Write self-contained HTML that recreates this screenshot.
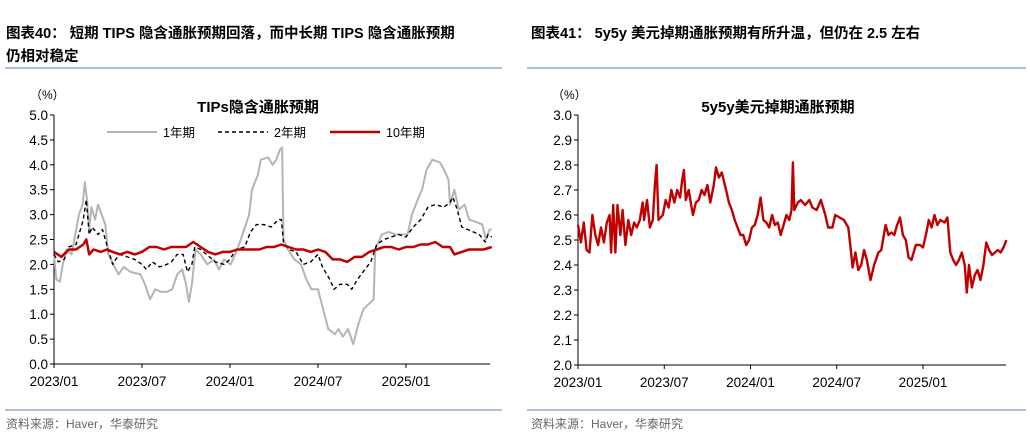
<!DOCTYPE html>
<html><head><meta charset="utf-8">
<style>
body{margin:0;background:#fff;width:1030px;height:437px;overflow:hidden;font-family:"Liberation Sans","Noto Sans CJK SC",sans-serif;}
svg text{font-family:"Liberation Sans","Noto Sans CJK SC",sans-serif;}
</style></head>
<body>
<svg width="1030" height="437">
<text x="6" y="38" font-size="14.5" font-weight="bold" fill="#000">图表40：  短期 TIPS 隐含通胀预期回落，而中长期 TIPS 隐含通胀预期</text>
<text x="6" y="61" font-size="14.5" font-weight="bold" fill="#000">仍相对稳定</text>
<text x="531" y="38" font-size="14.5" font-weight="bold" fill="#000">图表41：  5y5y 美元掉期通胀预期有所升温，但仍在 2.5 左右</text>
<line x1="5" y1="68" x2="502" y2="68" stroke="#5b7fbf" stroke-width="1"/>
<line x1="527" y1="68" x2="1026" y2="68" stroke="#5b7fbf" stroke-width="1"/>
<line x1="5" y1="410" x2="502" y2="410" stroke="#5b7fbf" stroke-width="1"/>
<line x1="527" y1="410" x2="1026" y2="410" stroke="#5b7fbf" stroke-width="1"/>
<text x="6" y="428" font-size="12" fill="#666">资料来源：Haver，华泰研究</text>
<text x="531" y="428" font-size="12" fill="#666">资料来源：Haver，华泰研究</text>
<g id="left"></g>
<g id="right"></g>
</svg>
<script>
// ---- Left chart data (t = months since 2023/01) ----
const xTickLabels = ["2023/01","2023/07","2024/01","2024/07","2025/01"];
const xTickMonths = [0,6,12,18,24];
const leftYTicks = [0,0.5,1,1.5,2,2.5,3,3.5,4,4.5,5];
const rightYTicks = [2.0,2.1,2.2,2.3,2.4,2.5,2.6,2.7,2.8,2.9,3.0];
const y1T = [0,.16,.4,.6,.85,1.2,1.45,1.7,1.95,2.1,2.25,2.4,2.55,2.8,3.0,3.25,3.5,3.7,4.05,4.4,4.75,5.2,5.9,6.2,6.55,6.9,7.3,7.7,8.05,8.4,8.75,9.0,9.2,9.4,9.65,10.0,10.45,10.9,11.25,11.6,12.05,12.5,12.97,13.3,13.5,13.9,14.1,14.6,14.9,15.15,15.4,15.55,15.65,15.95,16.4,16.85,17.2,17.55,18.0,18.35,18.7,19.15,19.4,19.7,20.05,20.4,20.75,21.1,21.45,21.8,21.9,22.35,22.8,23.3,23.75,24.1,24.4,24.8,25.1,25.4,25.8,26.3,26.6,26.9,27.0,27.3,27.6,28.0,28.3,28.8,29.2,29.45,29.7,29.85];
const y1V = [2.2,1.7,1.65,2.0,2.3,2.2,2.6,3.0,3.2,3.65,3.3,2.7,3.15,2.9,3.2,3.0,2.8,2.2,2.0,1.8,1.95,1.85,1.8,1.6,1.3,1.5,1.45,1.45,1.5,1.8,1.9,1.6,1.25,1.6,2.3,2.2,2.0,2.1,1.9,2.1,2.0,2.3,2.7,3.0,3.5,3.8,4.1,4.15,4.0,4.1,4.3,4.35,2.5,2.3,2.1,2.0,1.7,1.5,1.5,1.1,0.7,0.6,0.7,0.55,0.7,0.4,0.8,1.1,1.2,1.3,2.3,2.6,2.65,2.6,2.6,2.6,3.0,3.3,3.5,3.9,4.1,4.05,3.9,3.7,3.2,3.5,3.1,3.2,2.9,2.85,2.8,2.5,2.7,2.7];
const y2T = [0,.3,.7,1,1.5,2,2.2,2.4,2.6,3,3.3,3.6,4,4.2,4.5,5,5.5,6,6.3,6.7,7.2,7.7,8,8.4,8.8,9.1,9.4,9.6,10,10.4,11,11.6,12,12.4,13,13.4,13.8,14.3,14.8,15.3,15.5,15.65,16,16.5,17,17.5,18,18.3,18.8,19.1,19.5,20,20.3,20.7,21.2,21.6,22,22.5,23,23.5,24,24.5,25,25.5,26,26.6,27,27.2,27.5,27.8,28.2,28.6,29,29.4,29.6,29.85];
const y2V = [2.2,2.05,2.1,2.35,2.4,2.9,3.3,2.6,2.75,2.6,2.7,2.4,2.0,2.1,2.2,2.15,2.1,2.0,1.9,2.05,1.95,2.0,2.05,2.2,2.2,1.85,2.0,2.35,2.3,2.2,2.05,2.0,2.1,2.3,2.35,2.65,2.8,2.8,2.75,2.9,2.9,2.45,2.3,2.25,2.0,2.05,2.2,1.95,1.7,1.5,1.6,1.6,1.5,1.7,1.9,2.05,2.4,2.5,2.55,2.6,2.55,2.75,2.9,3.15,3.2,3.15,3.25,3.35,3.1,2.75,2.7,2.65,2.6,2.45,2.6,2.55];
const y10T = [0,.5,1,1.5,2,2.2,2.4,2.7,3.2,3.6,4,4.5,5,5.5,6,6.5,7,7.5,8,8.5,9,9.5,10,10.5,11,11.5,12,12.5,13,13.5,14,14.5,15,15.5,16,16.5,17,17.5,18,18.5,19,19.5,20,20.5,21,21.5,22,22.5,23,23.5,24,24.5,25,25.5,26,26.5,27,27.3,27.8,28.3,28.8,29.3,29.85];
const y10V = [2.25,2.15,2.3,2.3,2.4,2.5,2.2,2.3,2.25,2.3,2.25,2.2,2.25,2.2,2.25,2.35,2.35,2.3,2.35,2.35,2.35,2.45,2.35,2.25,2.2,2.25,2.25,2.3,2.3,2.3,2.3,2.35,2.35,2.4,2.35,2.3,2.3,2.25,2.3,2.25,2.1,2.1,2.05,2.15,2.15,2.25,2.3,2.35,2.35,2.3,2.35,2.35,2.4,2.4,2.45,2.35,2.35,2.2,2.25,2.3,2.3,2.3,2.35];
// ---- Right chart data ----
const fT = [0,.2,.4,.6,.8,1,1.2,1.4,1.6,1.8,2,2.2,2.3,2.45,2.6,2.75,2.95,3.1,3.3,3.5,3.7,3.9,4.1,4.3,4.5,4.6,4.8,5,5.2,5.35,5.47,5.6,5.9,6.1,6.3,6.5,6.7,6.9,7.1,7.25,7.37,7.5,7.7,7.9,8,8.2,8.4,8.6,8.8,9,9.2,9.45,9.6,9.8,10,10.3,10.5,10.7,10.9,11.1,11.3,11.5,11.7,11.9,12.1,12.3,12.5,12.7,12.9,13.1,13.3,13.5,13.7,13.9,14.1,14.3,14.5,14.7,14.85,14.95,15.05,15.3,15.5,15.8,16.1,16.3,16.6,16.9,17.2,17.4,17.7,17.9,18.2,18.5,18.8,19,19.1,19.3,19.5,19.7,19.9,20.1,20.35,20.6,20.9,21.1,21.4,21.6,21.8,22,22.2,22.4,22.6,22.8,23,23.2,23.5,23.8,24,24.2,24.4,24.6,24.8,25,25.2,25.5,25.7,25.9,26.1,26.3,26.5,26.7,26.9,27.05,27.2,27.4,27.6,27.8,28,28.2,28.4,28.6,28.8,29,29.2,29.4,29.6,29.8];
const fV = [2.56,2.49,2.57,2.46,2.45,2.6,2.52,2.48,2.55,2.49,2.57,2.6,2.45,2.64,2.45,2.64,2.52,2.62,2.48,2.58,2.52,2.57,2.55,2.58,2.65,2.58,2.66,2.55,2.58,2.72,2.8,2.58,2.6,2.66,2.63,2.7,2.65,2.7,2.67,2.74,2.78,2.66,2.7,2.63,2.6,2.65,2.66,2.7,2.68,2.72,2.65,2.72,2.79,2.75,2.77,2.7,2.65,2.62,2.58,2.55,2.52,2.52,2.48,2.5,2.55,2.56,2.6,2.67,2.58,2.57,2.55,2.6,2.56,2.57,2.52,2.56,2.6,2.58,2.62,2.81,2.62,2.65,2.66,2.64,2.66,2.63,2.62,2.66,2.6,2.55,2.55,2.6,2.59,2.58,2.55,2.45,2.39,2.45,2.38,2.4,2.46,2.42,2.34,2.4,2.45,2.46,2.56,2.52,2.53,2.52,2.56,2.59,2.52,2.5,2.43,2.42,2.48,2.48,2.47,2.52,2.58,2.55,2.6,2.56,2.58,2.57,2.59,2.45,2.42,2.4,2.42,2.45,2.4,2.29,2.4,2.31,2.36,2.38,2.34,2.4,2.49,2.46,2.44,2.45,2.46,2.45,2.47,2.5];

const NS="http://www.w3.org/2000/svg";
function mk(parent,tag,attrs){const e=document.createElementNS(NS,tag);for(const k in attrs)e.setAttribute(k,attrs[k]);parent.appendChild(e);return e;}

function drawAxes(g,x0,x1,yTop,yBot,ticks,ymin,ymax,fmt,monthPx,pctX){
  const ys=v=>yBot-(v-ymin)/(ymax-ymin)*(yBot-yTop);
  const ax=mk(g,'line',{x1:x0,y1:yTop,x2:x0,y2:yBot,stroke:'#000','stroke-width':1});
  
  
  const bx=mk(g,'line',{x1:x0,y1:yBot,x2:x1,y2:yBot,stroke:'#000','stroke-width':1});
  
  
  ticks.forEach(v=>{
    const y=ys(v);
    mk(g,'line',{x1:x0-4,y1:y,x2:x0,y2:y,stroke:'#000'});
    const t=mk(g,'text',{x:x0-6,y:y+5,'font-size':13.5,'text-anchor':'end',fill:'#000'});
    
    
    t.textContent=v.toFixed(1);
  });
  xTickMonths.forEach((m,i)=>{
    const x=x0+m*monthPx;
    mk(g,'line',{x1:x,y1:yBot,x2:x,y2:yBot+4,stroke:'#000'});
    const t=mk(g,'text',{x:x,y:yBot+22,'font-size':13.5,'text-anchor':'middle',fill:'#000'});
    
    
    t.textContent=xTickLabels[i];
  });
  const p=mk(g,'text',{x:pctX,y:99,'font-size':12,fill:'#000'});
  
  
  p.textContent='（%）';
  return ys;
}
function line(g,T,V,xs,ys,attrs,name){
  const d=T.map((t,i)=>(i?'L':'M')+xs(t).toFixed(1)+','+ys(V[i]).toFixed(1)).join('');
  const p=mk(g,'path',Object.assign({d:d,fill:'none','stroke-linejoin':'round'},attrs));
  
  
}
// Left
const L=document.getElementById('left');
const lMonth=(406-54)/24;
const lys=drawAxes(L,54,490,115,364,leftYTicks,0,5,null,lMonth,30);
const lxs=t=>54+t*lMonth;
line(L,y1T,y1V,lxs,lys,{stroke:'#b4b4b4','stroke-width':2},'series-1y');
line(L,y2T,y2V,lxs,lys,{stroke:'#000','stroke-width':1.4,'stroke-dasharray':'4,3'},'series-2y');
line(L,y10T,y10V,lxs,lys,{stroke:'#c00000','stroke-width':2.5},'series-10y');
let tt=mk(L,'text',{x:258,y:112,'font-size':15,'font-weight':'bold','text-anchor':'middle'});


tt.textContent='TIPs隐含通胀预期';
const leg=[['1年期','#b4b4b4',107,'none',2],['2年期','#000',218,'4,3',1.4],['10年期','#c00000',330,'none',2.5]];
leg.forEach(l=>{
  const e=mk(L,'line',{x1:l[2],y1:132,x2:l[2]+50,y2:132,stroke:l[1],'stroke-width':l[4],'stroke-dasharray':l[3]});
  
  
  const t=mk(L,'text',{x:l[2]+56,y:137,'font-size':12.5});
  
  
  t.textContent=l[0];
});
// Right
const R=document.getElementById('right');
const rMonth=(923-578)/24;
const rys=drawAxes(R,578,1006,115,365,rightYTicks,2,3,null,rMonth,552);
const rxs=t=>578+t*rMonth;
line(R,fT,fV,rxs,rys,{stroke:'#c00000','stroke-width':2.4},'series-5y5y');
tt=mk(R,'text',{x:778,y:112,'font-size':15,'font-weight':'bold','text-anchor':'middle'});


tt.textContent='5y5y美元掉期通胀预期';
</script>
</body></html>
